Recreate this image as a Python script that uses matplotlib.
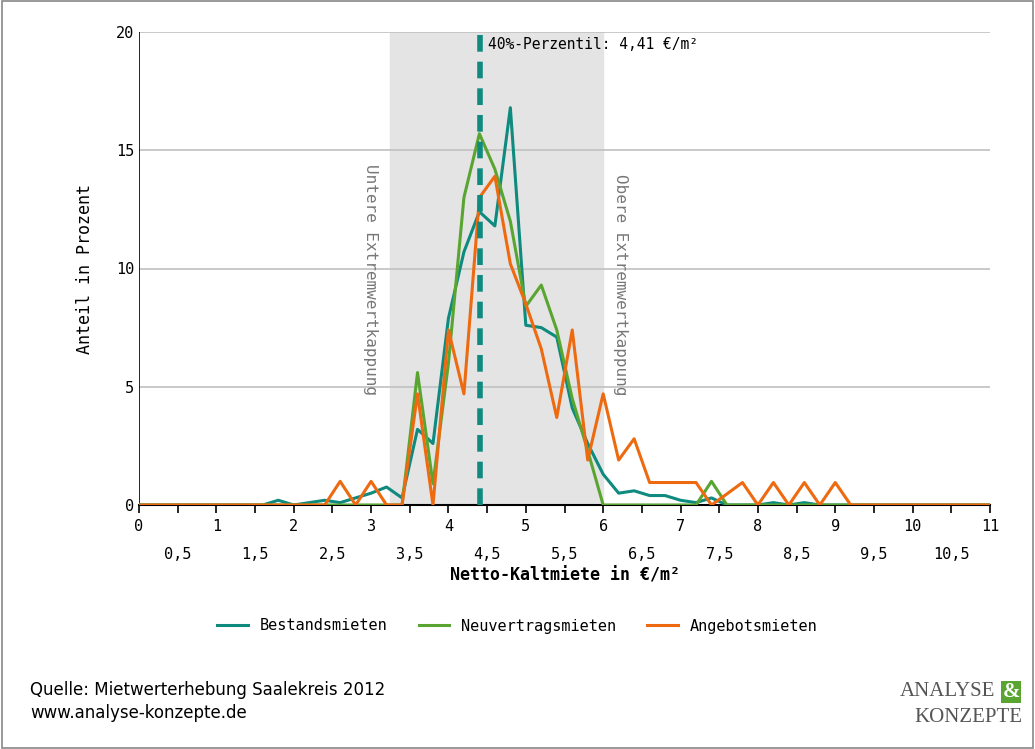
import numpy as np
import matplotlib
matplotlib.use('Agg')
import matplotlib.pyplot as plt

x_start, x_step = 0.0, 0.2

bestand = [0, 0, 0, 0, 0, 0, 0, 0, 0, 0.2, 0, 0.1, 0.2, 0.1, 0.3, 0.5, 0.76, 0.3,
           3.2, 2.6, 7.9, 10.7, 12.4, 11.8, 16.8, 7.6, 7.5, 7.1, 4.1, 2.6, 1.3,
           0.5, 0.6, 0.4, 0.4, 0.2, 0.1, 0.3, 0, 0, 0, 0.1, 0, 0.1, 0, 0, 0]
neuvertrag = [0] * 18 + [5.6, 0.9, 6.0, 13.0, 15.7, 14.2, 12.0, 8.4, 9.3, 7.4, 4.5, 2.3, 0,
                         0, 0, 0, 0, 0, 0, 1.0, 0, 0, 0, 0, 0, 0, 0, 0, 0]
angebot = [0] * 12 + [0, 1.0, 0, 1.0, 0, 0, 4.7, 0, 7.4, 4.7, 13.0, 13.9, 10.2, 8.5, 6.6,
                      3.7, 7.4, 1.9, 4.7, 1.9, 2.8, 0.95, 0.95, 0.95, 0.95, 0, 0.47, 0.95,
                      0, 0.95, 0, 0.95, 0, 0.95, 0]
percentile = 4.41
lower_cap, upper_cap = 3.24, 6.0

teal, green, orange = '#0e8a7e', '#5aa532', '#ee6a10'
mono = 'DejaVu Sans Mono'

fig = plt.figure(figsize=(10.35, 7.49), dpi=100)
ax = fig.add_axes([139/1035, 1-505/749, 851/1035, 473/749])

ax.axvspan(lower_cap, upper_cap, color='#e4e4e4', zorder=0)
for y in [5, 10, 15, 20]:
    ax.axhline(y, color='#c0c0c0', lw=1.2, zorder=1)
for vals, col, lab, z in [(bestand, teal, 'Bestandsmieten', 3),
                          (neuvertrag, green, 'Neuvertragsmieten', 3),
                          (angebot, orange, 'Angebotsmieten', 4)]:
    xs = x_start + x_step * np.arange(len(vals))
    ax.plot(np.append(xs, 11.0), vals + [0], color=col, lw=2.2, label=lab, zorder=z)
ax.axvline(percentile, color=teal, lw=4, ls=(0, (3, 1.8)), zorder=5)
ax.text(percentile + 0.1, 19.3, '40%-Perzentil: 4,41 €/m²', family=mono, fontsize=10.5)
ax.text(lower_cap - 0.25, 14.4, 'Untere Extremwertkappung', rotation=270, family=mono,
        fontsize=11.5, color='#777777', va='top', ha='center')
ax.text(upper_cap + 0.22, 14.0, 'Obere Extremwertkappung', rotation=270, family=mono,
        fontsize=11.5, color='#777777', va='top', ha='center')

ax.set_xlim(0, 11)
ax.set_ylim(0, 20)
ax.set_yticks([0, 5, 10, 15, 20])
ax.set_xticks(np.arange(0, 11.01, 0.5))
ax.set_xticklabels([])
for v in range(12):
    ax.text(v, -0.9, str(v), ha='center', va='center', family=mono, fontsize=11)
for v in np.arange(0.5, 11, 1.0):
    ax.text(v, -2.1, f'{v:.1f}'.replace('.', ','), ha='center', va='center', family=mono, fontsize=11)
ax.tick_params(axis='x', length=6, width=1.2, direction='out')
ax.tick_params(axis='y', length=0, labelsize=11)
for lab in ax.get_yticklabels():
    lab.set_family(mono)
for s in ['top', 'right', 'left']:
    ax.spines[s].set_visible(False)
ax.spines['bottom'].set_linewidth(1.5)
ax.axvline(0, color='black', lw=1.2)
ax.text(5.5, -3.0, 'Netto-Kaltmiete in €/m²', ha='center', va='center', family=mono,
        fontsize=12, fontweight='bold')
ax.set_ylabel('Anteil in Prozent', family=mono, fontsize=12, labelpad=16)

fig.legend(loc='center', bbox_to_anchor=(0.5, 1-626/749), ncol=3, frameon=False,
           prop={'family': mono, 'size': 11}, handlelength=2, columnspacing=2)

fig.text(30/1035, 1-690/749, 'Quelle: Mietwerterhebung Saalekreis 2012', fontsize=12, va='center')
fig.text(30/1035, 1-713/749, 'www.analyse-konzepte.de', fontsize=12, va='center')
fig.text(995/1035, 1-692/749, 'ANALYSE', family='Liberation Serif', fontsize=15,
         color='#555555', ha='right', va='center')
fig.text(1020/1035, 1-692/749, '&', family='Liberation Serif', fontsize=15, color='white',
         ha='right', va='center', fontweight='bold',
         bbox=dict(facecolor='#5aa532', edgecolor='none', pad=1))
fig.text(1022/1035, 1-718/749, 'KONZEPTE', family='Liberation Serif', fontsize=15,
         color='#555555', ha='right', va='center')

border = plt.Rectangle((0.002, 0.002), 0.996, 0.996, transform=fig.transFigure,
                       fill=False, edgecolor='#888888', lw=1.2)
fig.patches.append(border)
fig.savefig('out.png', dpi=100)
